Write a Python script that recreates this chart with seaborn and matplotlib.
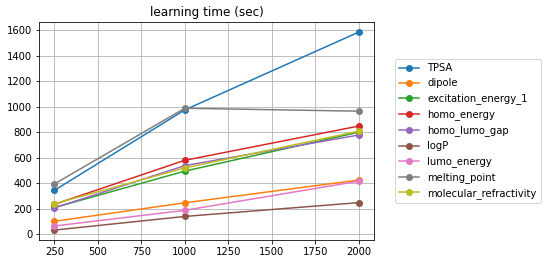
import matplotlib
matplotlib.use("Agg")
import matplotlib.pyplot as plt
import seaborn as sns
import pandas as pd

sizes = [250, 1000, 2000]
TPSA = [345, 975, 1584]
dipole = [102, 247, 425]
excitation_energy_1 = [210, 495, 800]
homo_energy = [235, 580, 848]
homo_lumo_gap = [207, 538, 778]
logP = [33, 140, 248]
lumo_energy = [65, 188, 416]
melting_point = [395, 988, 965]
molecular_refractivity = [240, 520, 808]

series = {
    "TPSA": TPSA,
    "dipole": dipole,
    "excitation_energy_1": excitation_energy_1,
    "homo_energy": homo_energy,
    "homo_lumo_gap": homo_lumo_gap,
    "logP": logP,
    "lumo_energy": lumo_energy,
    "melting_point": melting_point,
    "molecular_refractivity": molecular_refractivity,
}

rows = []
for name, vals in series.items():
    for x, y in zip(sizes, vals):
        rows.append({"size": x, "time": y, "target": name})
df = pd.DataFrame(rows)

plt.rcParams["font.family"] = ["DejaVu Sans"]
fig, ax = plt.subplots(figsize=(548 / 72, 264 / 72), dpi=72)
fig.subplots_adjust(left=0.0717, right=0.682, top=0.9155, bottom=0.091)

sns.lineplot(data=df, x="size", y="time", hue="target", palette="tab10",
             marker="o", markersize=7, markeredgewidth=0, ax=ax)
ax.grid(True, color="#b0b0b0", linewidth=0.8)
ax.set_axisbelow(True)
ax.set_title("learning time (sec)", fontsize=12)
ax.set_xlabel("")
ax.set_ylabel("")
ax.set_xticks([250, 500, 750, 1000, 1250, 1500, 1750, 2000])
ax.set_yticks([0, 200, 400, 600, 800, 1000, 1200, 1400, 1600])
ax.tick_params(labelsize=10)
ax.legend(loc="center left", bbox_to_anchor=(1.05, 0.5), fontsize=10)

fig.savefig("out.png", dpi=72)
